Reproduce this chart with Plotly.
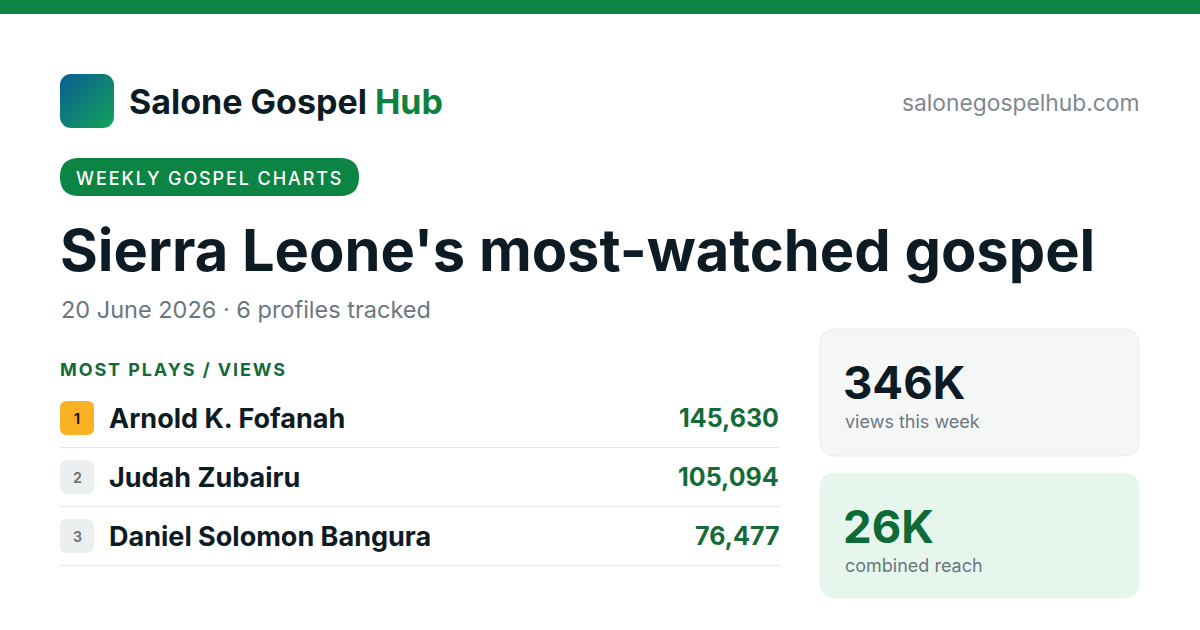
import base64
import plotly.graph_objects as go

# ---------------- data ----------------
brand_main = "Salone Gospel "
brand_accent = "Hub"
site = "salonegospelhub.com"
pill_label = "WEEKLY GOSPEL CHARTS"
title = "Sierra Leone's most-watched gospel"
subtitle = "20 June 2026 · 6 profiles tracked"
section_label = "MOST PLAYS / VIEWS"

ranks = [1, 2, 3]
names = ["Arnold K. Fofanah", "Judah Zubairu", "Daniel Solomon Bangura"]
views = [145630, 105094, 76477]

stat_values = ["346K", "26K"]
stat_labels = ["views this week", "combined reach"]

# ---------------- style ----------------
W, H = 1200, 630
FONT = "Inter"
DARK = "#0d1b24"
GREEN = "#0c8443"
DGREEN = "#136b3a"
GREY = "#6b7780"

fig = go.Figure()


def rrect(x0, y0, x1, y1, r):
    return (f"M{x0+r},{y0} L{x1-r},{y0} Q{x1},{y0} {x1},{y0+r} "
            f"L{x1},{y1-r} Q{x1},{y1} {x1-r},{y1} L{x0+r},{y1} "
            f"Q{x0},{y1} {x0},{y1-r} L{x0},{y0+r} Q{x0},{y0} {x0+r},{y0} Z")


shapes = []
ann = []


def text(x, y, s, size, color, weight="normal", anchor="left", family=FONT):
    ann.append(dict(x=x, y=y, xref="x", yref="y", text=s, showarrow=False,
                    xanchor=anchor, yanchor="middle",
                    font=dict(family=family, size=size, color=color, weight=weight)))


# top bar
shapes.append(dict(type="rect", x0=0, x1=W, y0=0, y1=14, fillcolor=GREEN,
                   line=dict(width=0), layer="below"))

# brand
text(127, 101, f"{brand_main}<span style='color:#0e8040'>{brand_accent}</span>",
     34, DARK, "bold")
text(1141, 102, site, 22.8, "#7e8890", anchor="right")

# pill
shapes.append(dict(type="path", path=rrect(60, 158, 359, 196, 19),
                   fillcolor=GREEN, line=dict(width=0)))
text(74, 178, pill_label, 18, "white", 500)

# title & subtitle
text(57.5, 250, title, 57.8, DARK, "bold")
text(58.5, 309, subtitle, 23.5, GREY)

# section label
text(58, 369, section_label, 18, DGREEN, "bold")

# rows
row0, step = 418, 59
for i, (rk, nm, v) in enumerate(zip(ranks, names, views)):
    yc = row0 + i * step
    badge_fill = "#fbb124" if rk == 1 else "#eceff0"
    badge_txt = DARK if rk == 1 else GREY
    shapes.append(dict(type="path", path=rrect(60, yc - 17, 94, yc + 17, 7),
                       fillcolor=badge_fill, line=dict(width=0)))
    text(77, yc, str(rk), 14, badge_txt, "bold", anchor="center")
    text(106.5, yc, nm, 27, DARK, "bold")
    text(781, yc, f"{v:,}", 25, DGREEN, "bold", anchor="right")
    ys = yc + 29.5
    shapes.append(dict(type="line", x0=60, x1=780, y0=ys, y1=ys,
                       line=dict(color="#e6e9eb", width=1.2)))

# stat cards
cards = [(329, 456, "#f5f7f7", "#e8ecec", DARK), (473, 598, "#e7f6ed", "#e7f6ed", "#0e6b38")]
for (y0, y1, fill, border, vcol), val, lab in zip(cards, stat_values, stat_labels):
    shapes.append(dict(type="path", path=rrect(820, y0, 1139, y1, 16),
                       fillcolor=fill, line=dict(color=border, width=1)))
    text(841, y0 + 53, val, 45.5, vcol, "bold")
    text(843, y0 + 92, lab, 18, GREY)

# logo with diagonal gradient
svg = ('<svg xmlns="http://www.w3.org/2000/svg" width="54" height="54">'
       '<defs><linearGradient id="g" x1="0" y1="0" x2="1" y2="1">'
       '<stop offset="0" stop-color="#0a5c93"/><stop offset="1" stop-color="#12a45a"/>'
       '</linearGradient></defs>'
       '<rect width="54" height="54" rx="11" fill="url(#g)"/></svg>')
src = "data:image/svg+xml;base64," + base64.b64encode(svg.encode()).decode()

fig.update_layout(
    width=W, height=H,
    margin=dict(l=0, r=0, t=0, b=0),
    paper_bgcolor="white", plot_bgcolor="white",
    xaxis=dict(range=[0, W], visible=False, fixedrange=True),
    yaxis=dict(range=[H, 0], visible=False, fixedrange=True),
    shapes=shapes, annotations=ann, showlegend=False,
    images=[dict(source=src, xref="paper", yref="paper", x=60 / W, y=1 - 74 / H,
                 sizex=54 / W, sizey=54 / H, xanchor="left", yanchor="top",
                 sizing="stretch", layer="above")],
)

post = """
document.body.style.margin = '0';
var spaced = {'WEEKLY GOSPEL CHARTS': '1.9px', 'MOST PLAYS / VIEWS': '1.9px'};
document.querySelectorAll('.annotation-text').forEach(function(t){
  var s = t.textContent;
  if (spaced[s]) {
    var w0 = t.getComputedTextLength();
    var x = parseFloat(t.getAttribute('x')) || 0;
    t.setAttribute('text-anchor', 'start');
    t.setAttribute('x', x - w0 / 2);
    t.style.letterSpacing = spaced[s];
  }
});
"""

fig.write_html("out.html", post_script=post, config={"displayModeBar": False})
